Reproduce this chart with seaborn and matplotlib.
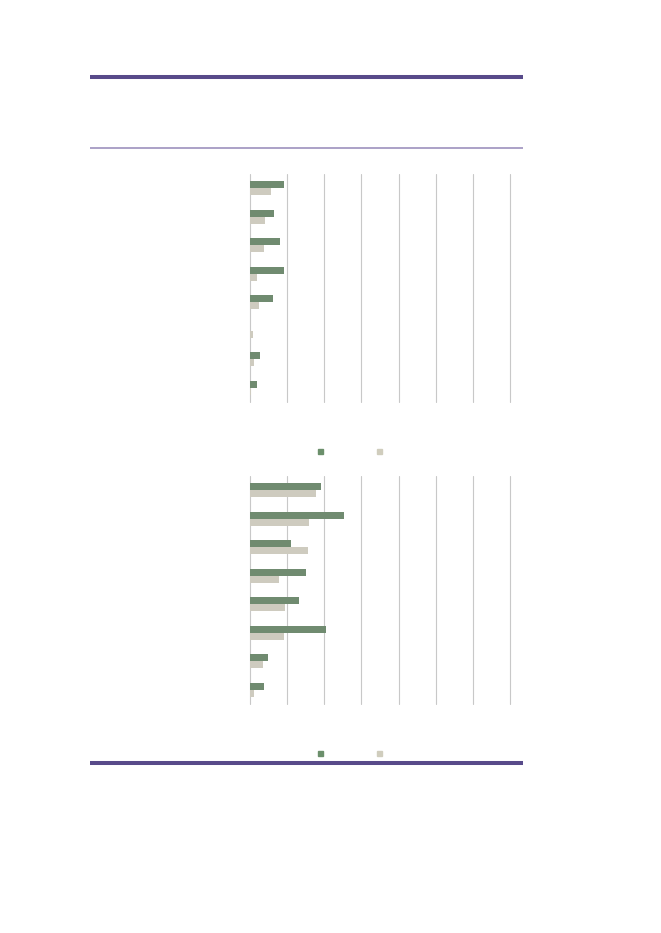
import numpy as np
import pandas as pd
import matplotlib
matplotlib.use('Agg')
from matplotlib import pyplot as plt
from matplotlib.lines import Line2D
import seaborn as sns

# chart data (no text labels in the reference, groups are just numbered)
groups = ['g1', 'g2', 'g3', 'g4', 'g5', 'g6', 'g7', 'g8']
series = ['s1', 's2']
top_s1 = [9.1, 6.5, 8.2, 9.1, 6.2, 0.0, 2.8, 1.9]
top_s2 = [5.7, 4.0, 3.8, 1.9, 2.5, 0.7, 1.0, 0.4]
bottom_s1 = [19.1, 25.3, 11.0, 15.2, 13.3, 20.5, 4.9, 3.8]
bottom_s2 = [17.7, 15.9, 15.6, 7.8, 9.5, 9.2, 3.6, 1.1]
x_ticks = [0, 10, 20, 30, 40, 50, 60, 70]

green = '#6b8f6b'
beige = '#d0cdbd'
purple = '#584a8a'
purple_light = '#9488b8'


def long_df(a, b):
    return pd.DataFrame({
        'group': groups * 2,
        'series': [series[0]] * len(groups) + [series[1]] * len(groups),
        'value': a + b,
    })


W, H = 661, 933
fig = plt.figure(figsize=(W / 100, H / 100), dpi=100)
sns.set_style('white')


def make_axes(top_px, bottom_px):
    return fig.add_axes([250 / W, 1 - bottom_px / H, 260 / W, (bottom_px - top_px) / H])


def draw(ax, df):
    sns.barplot(data=df, y='group', x='value', hue='series', orient='h',
                palette=[green, beige], width=0.49, linewidth=0, ax=ax, legend=False)
    ax.set_xlim(x_ticks[0], x_ticks[-1])
    ax.set_xticks(x_ticks)
    ax.set_xticklabels([])
    ax.set_yticks([])
    ax.tick_params(length=0)
    ax.set_xlabel('')
    ax.set_ylabel('')
    for s in ax.spines.values():
        s.set_visible(False)
    ax.grid(axis='x', color='#c8c8c8', linewidth=0.8)
    ax.set_axisbelow(True)
    # keep the first and last gridlines fully visible at the axes edges
    for gl in ax.get_xgridlines():
        gl.set_clip_on(False)


ax1 = make_axes(174, 402)
draw(ax1, long_df(top_s1, top_s2))
ax2 = make_axes(476, 704)
draw(ax2, long_df(bottom_s1, bottom_s2))

# legends: just the colour swatches
handles = [Line2D([], [], marker='s', linestyle='none', markersize=3.6, color=c) for c in (green, beige)]
for y_px in (452, 754):
    fig.legend(handles, ['', ''], loc='center', bbox_to_anchor=(349.5 / W, 1 - y_px / H),
               ncol=2, frameon=False, handlelength=1, handletextpad=0, columnspacing=3.25,
               borderpad=0, fontsize=10)

# decorative rules
def rule(y_px, color, lw):
    fig.add_artist(Line2D([90 / W, 523 / W], [1 - y_px / H] * 2, color=color, linewidth=lw,
                          solid_capstyle='butt'))


rule(77, purple, 2.9)
rule(147.5, purple_light, 1.1)
rule(762.5, purple, 2.9)

fig.savefig('out.png', dpi=100)
